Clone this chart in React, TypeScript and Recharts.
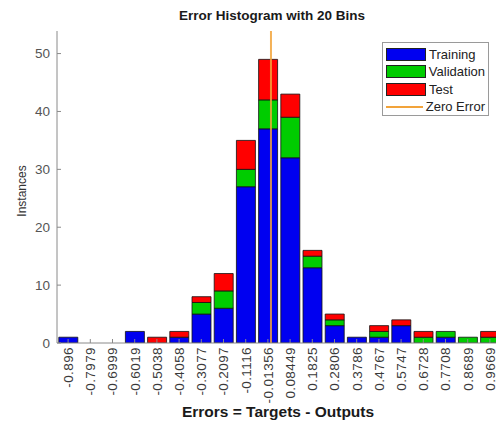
import { BarChart, Bar, XAxis, YAxis, ReferenceLine } from 'recharts';

// Bin centres of the error histogram
const bins = [
  '-0.896', '-0.7979', '-0.6999', '-0.6019', '-0.5038', '-0.4058', '-0.3077',
  '-0.2097', '-0.1116', '-0.01356', '0.08449', '0.1825', '0.2806', '0.3786',
  '0.4767', '0.5747', '0.6728', '0.7708', '0.8689', '0.9669',
];
const training = [1, 0, 0, 2, 0, 1, 5, 6, 27, 37, 32, 13, 3, 1, 1, 3, 0, 1, 0, 0];
const validation = [0, 0, 0, 0, 0, 0, 2, 3, 3, 5, 7, 2, 1, 0, 1, 0, 1, 1, 1, 1];
const test = [0, 0, 0, 0, 1, 1, 1, 3, 5, 7, 4, 1, 1, 0, 1, 1, 1, 0, 0, 1];
const yTicks = [0, 10, 20, 30, 40, 50];
const yMax = 53.9;

const BLUE = '#0000f0';
const GREEN = '#00cc00';
const RED = '#ff0000';
const ORANGE = '#f2a33a';
const FONT = 'Liberation Sans, Arial, sans-serif';

const centers = bins.map((b) => parseFloat(b));

const data = bins.map((bin, i) => ({
  center: centers[i],
  training: training[i],
  validation: validation[i],
  test: test[i],
}));

// half a bin on each side of the outer centres
const half = (centers[centers.length - 1] - centers[0]) / (centers.length - 1) / 2;
const errDomain = [centers[0] - half, centers[centers.length - 1] + half];

function BinTick({ x, y, payload }: any) {
  const idx = centers.indexOf(payload.value);
  return (
    <text
      x={x}
      y={y}
      dy="0.36em"
      transform={`rotate(-90, ${x}, ${y})`}
      textAnchor="end"
      style={{ fontSize: 13.5, fontFamily: FONT, letterSpacing: '0.4px' }}
      fill="#3a3a3a"
    >
      {idx >= 0 ? bins[idx] : payload.value}
    </text>
  );
}

const legendItems = [
  { label: 'Training', color: BLUE, line: false },
  { label: 'Validation', color: GREEN, line: false },
  { label: 'Test', color: RED, line: false },
  { label: 'Zero Error', color: ORANGE, line: true },
];

function HistLegend() {
  return (
    <div style={{
      position: 'absolute', left: 382, top: 42,
      border: '1px solid #9a9a9a',
      background: '#fff',
      width: 107,
      height: 74,
      padding: '3px 3px',
      boxSizing: 'border-box',
      fontFamily: FONT,
    }}>
      {legendItems.map((it) => (
        <div key={it.label} style={{ display: 'flex', alignItems: 'center', height: 17.3 }}>
          {it.line ? (
            <div style={{ width: 40, height: 2, background: it.color }} />
          ) : (
            <div style={{ width: 38, height: 11, background: it.color, border: '1px solid #222' }} />
          )}
          <span style={{ marginLeft: 3, fontSize: 13, color: '#222', whiteSpace: 'nowrap' }}>{it.label}</span>
        </div>
      ))}
    </div>
  );
}

export default function App() {
  return (
    <div style={{
      position: 'absolute', left: 0, top: 0, width: 496, height: 423,
      overflow: 'hidden', background: '#fff', fontFamily: FONT,
    }}>
      <div style={{
        position: 'absolute', left: 272, top: 8, transform: 'translateX(-50%)',
        fontSize: 13.5, fontWeight: 700, color: '#1a1a1a', whiteSpace: 'nowrap',
      }}>
        Error Histogram with 20 Bins
      </div>
      <div style={{
        position: 'absolute', left: 22, top: 191, transform: 'translate(-50%, -50%) rotate(-90deg)',
        fontSize: 12, color: '#333', whiteSpace: 'nowrap',
      }}>
        Instances
      </div>
      <div style={{
        position: 'absolute', left: 278, top: 403, transform: 'translateX(-50%)',
        fontSize: 15.5, fontWeight: 700, color: '#1a1a1a', whiteSpace: 'nowrap',
      }}>
        Errors = Targets - Outputs
      </div>

      <BarChart
        width={510}
        height={423}
        data={data}
        margin={{ top: 31, right: 9, bottom: 0, left: 0 }}
        barCategoryGap={1.8}
        style={{ position: 'absolute', left: 0, top: 0 }}
      >
        <XAxis
          dataKey="center"
          type="number"
          domain={errDomain}
          allowDataOverflow
          ticks={centers}
          interval={0}
          height={80}
          tick={<BinTick />}
          tickSize={-4}
          tickMargin={8}
          stroke="#8a8a8a"
          tickLine={{ stroke: '#8a8a8a' }}
        />
        <YAxis
          width={57}
          domain={[0, yMax]}
          ticks={yTicks}
          allowDataOverflow
          tickSize={-4}
          tickMargin={11}
          stroke="#8a8a8a"
          tick={{ fontSize: 13.5, fill: '#555', fontFamily: FONT }}
        />
        <Bar dataKey="training" stackId="h" fill={BLUE} stroke="#111" strokeWidth={0.8} isAnimationActive={false} />
        <Bar dataKey="validation" stackId="h" fill={GREEN} stroke="#111" strokeWidth={0.8} isAnimationActive={false} />
        <Bar dataKey="test" stackId="h" fill={RED} stroke="#111" strokeWidth={0.8} isAnimationActive={false} />
        <ReferenceLine x={0} stroke={ORANGE} strokeWidth={2} strokeOpacity={0.85} />
      </BarChart>
      <HistLegend />
    </div>
  );
}
